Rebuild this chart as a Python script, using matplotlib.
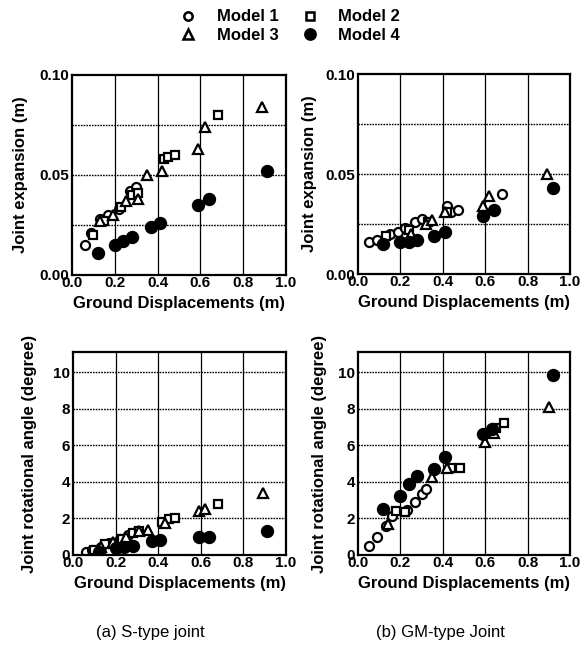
import matplotlib.pyplot as plt
import numpy as np

plt.rcParams['font.family'] = ['Liberation Sans', 'DejaVu Sans']
plt.rcParams['font.weight'] = 'bold'
plt.rcParams['axes.labelweight'] = 'bold'

# ---- S-type joint, joint expansion (m) ----
s_exp_m1_x = [0.06, 0.09, 0.13, 0.17, 0.22, 0.27, 0.30]
s_exp_m1_y = [0.015, 0.021, 0.028, 0.030, 0.033, 0.042, 0.044]
s_exp_m2_x = [0.10, 0.15, 0.23, 0.28, 0.31, 0.43, 0.45, 0.48, 0.68]
s_exp_m2_y = [0.020, 0.027, 0.034, 0.040, 0.041, 0.058, 0.059, 0.060, 0.080]
s_exp_m3_x = [0.13, 0.19, 0.25, 0.31, 0.35, 0.42, 0.59, 0.62, 0.89]
s_exp_m3_y = [0.027, 0.030, 0.037, 0.038, 0.050, 0.052, 0.063, 0.074, 0.084]
s_exp_m4_x = [0.12, 0.20, 0.24, 0.28, 0.37, 0.41, 0.59, 0.64, 0.91]
s_exp_m4_y = [0.011, 0.015, 0.017, 0.019, 0.024, 0.026, 0.035, 0.038, 0.052]

# ---- GM-type joint, joint expansion (m) ----
gm_exp_m1_x = [0.05, 0.09, 0.15, 0.19, 0.22, 0.27, 0.30, 0.42, 0.44, 0.47, 0.68]
gm_exp_m1_y = [0.016, 0.017, 0.020, 0.021, 0.023, 0.026, 0.0275, 0.034, 0.031, 0.032, 0.040]
gm_exp_m2_x = [0.13, 0.24, 0.33, 0.42]
gm_exp_m2_y = [0.019, 0.022, 0.026, 0.031]
gm_exp_m3_x = [0.25, 0.32, 0.35, 0.41, 0.59, 0.62, 0.89]
gm_exp_m3_y = [0.020, 0.025, 0.027, 0.031, 0.034, 0.039, 0.050]
gm_exp_m4_x = [0.12, 0.20, 0.24, 0.28, 0.36, 0.41, 0.59, 0.64, 0.92]
gm_exp_m4_y = [0.015, 0.016, 0.016, 0.017, 0.019, 0.021, 0.029, 0.032, 0.043]

# ---- S-type joint, rotational angle (degree) ----
s_rot_m1_x = [0.06, 0.09, 0.13, 0.17, 0.22, 0.26, 0.30]
s_rot_m1_y = [0.15, 0.30, 0.45, 0.65, 0.85, 1.10, 1.30]
s_rot_m2_x = [0.10, 0.15, 0.23, 0.28, 0.31, 0.42, 0.45, 0.48, 0.68]
s_rot_m2_y = [0.30, 0.60, 0.90, 1.20, 1.30, 1.80, 1.95, 2.00, 2.80]
s_rot_m3_x = [0.13, 0.19, 0.25, 0.31, 0.35, 0.43, 0.59, 0.62, 0.89]
s_rot_m3_y = [0.45, 0.70, 1.00, 1.30, 1.35, 1.75, 2.40, 2.50, 3.40]
s_rot_m4_x = [0.12, 0.20, 0.24, 0.28, 0.37, 0.41, 0.59, 0.64, 0.91]
s_rot_m4_y = [0.18, 0.36, 0.45, 0.50, 0.76, 0.82, 1.00, 1.00, 1.33]

# ---- GM-type joint, rotational angle (degree) ----
gm_rot_m1_x = [0.05, 0.09, 0.13, 0.16, 0.23, 0.27, 0.30, 0.32]
gm_rot_m1_y = [0.50, 1.00, 1.60, 2.15, 2.45, 2.90, 3.35, 3.60]
gm_rot_m2_x = [0.18, 0.22, 0.44, 0.48, 0.65, 0.69]
gm_rot_m2_y = [2.40, 2.35, 4.75, 4.75, 6.95, 7.20]
gm_rot_m3_x = [0.14, 0.35, 0.42, 0.60, 0.64, 0.90]
gm_rot_m3_y = [1.70, 4.25, 4.75, 6.20, 6.65, 8.10]
gm_rot_m4_x = [0.12, 0.20, 0.24, 0.28, 0.36, 0.41, 0.59, 0.63, 0.92]
gm_rot_m4_y = [2.50, 3.25, 3.90, 4.30, 4.70, 5.35, 6.60, 6.90, 9.85]

model_names = ['Model 1', 'Model 2', 'Model 3', 'Model 4']

W, H = 581, 655
fig = plt.figure(figsize=(W / 100, H / 100), dpi=100)


def px_axes(left, top, right, bottom):
    return fig.add_axes([left / W, 1 - bottom / H, (right - left) / W, (bottom - top) / H])


def draw_points(ax, m1, m2, m3, m4):
    kw = dict(linestyle='none', markeredgecolor='black', markeredgewidth=1.6)
    ax.plot(*m1, marker='o', markersize=6.5, markerfacecolor='white', **kw)
    ax.plot(*m2, marker='s', markersize=6.0, markerfacecolor='white', **kw)
    ax.plot(*m3, marker='^', markersize=7.0, markerfacecolor='white', **kw)
    ax.plot(*m4, marker='o', markersize=8.0, markerfacecolor='black', **kw)


def style_axes(ax, ymax, major, minor, fmt):
    ax.set_xlim(0, 1.0)
    ax.set_ylim(0, ymax)
    ax.set_xticks(np.arange(0, 1.01, 0.2))
    ax.set_xticklabels(['%.1f' % v for v in np.arange(0, 1.01, 0.2)])
    ax.set_yticks(major)
    ax.set_yticklabels([fmt % v for v in major])
    ax.set_yticks(minor, minor=True)
    ax.tick_params(which='both', length=0, labelsize=11, pad=2)
    ax.tick_params(axis='x', pad=1)
    for v in np.arange(0.2, 0.99, 0.2):
        ax.axvline(v, color='black', lw=0.9, zorder=0)
    for v in list(major[1:]) + list(minor):
        if v < ymax:
            ax.axhline(v, color='black', lw=1.0, ls=(0, (1.2, 0.8)), zorder=0)
    for s in ax.spines.values():
        s.set_linewidth(1.6)
    ax.set_xlabel('Ground Displacements (m)', fontsize=12, labelpad=4)


ax1 = px_axes(72, 75, 286, 275)
draw_points(ax1, (s_exp_m1_x, s_exp_m1_y), (s_exp_m2_x, s_exp_m2_y),
            (s_exp_m3_x, s_exp_m3_y), (s_exp_m4_x, s_exp_m4_y))
style_axes(ax1, 0.10, [0.0, 0.05, 0.10], [0.025, 0.075], '%.2f')
ax1.set_ylabel('Joint expansion (m)', fontsize=12, labelpad=8)

ax2 = px_axes(358, 74, 570, 274)
draw_points(ax2, (gm_exp_m1_x, gm_exp_m1_y), (gm_exp_m2_x, gm_exp_m2_y),
            (gm_exp_m3_x, gm_exp_m3_y), (gm_exp_m4_x, gm_exp_m4_y))
style_axes(ax2, 0.10, [0.0, 0.05, 0.10], [0.025, 0.075], '%.2f')
ax2.set_ylabel('Joint expansion (m)', fontsize=12, labelpad=6)

ax3 = px_axes(73, 352, 286, 555)
draw_points(ax3, (s_rot_m1_x, s_rot_m1_y), (s_rot_m2_x, s_rot_m2_y),
            (s_rot_m3_x, s_rot_m3_y), (s_rot_m4_x, s_rot_m4_y))
style_axes(ax3, 11.1, [0, 2, 4, 6, 8, 10], [], '%d')
ax3.set_ylabel('Joint rotational angle (degree)', fontsize=12, labelpad=12)

ax4 = px_axes(358, 352, 570, 555)
draw_points(ax4, (gm_rot_m1_x, gm_rot_m1_y), (gm_rot_m2_x, gm_rot_m2_y),
            (gm_rot_m3_x, gm_rot_m3_y), (gm_rot_m4_x, gm_rot_m4_y))
style_axes(ax4, 11.1, [0, 2, 4, 6, 8, 10], [], '%d')
ax4.set_ylabel('Joint rotational angle (degree)', fontsize=12, labelpad=8)

fig.text(150 / W, 1 - 632 / H, '(a) S-type joint', ha='center', va='center',
         fontsize=12, fontweight='normal')
fig.text(440 / W, 1 - 632 / H, '(b) GM-type Joint', ha='center', va='center',
         fontsize=12, fontweight='normal')

# legend at the top
handles = [
    plt.Line2D([], [], ls='none', marker='o', ms=6.0, mfc='white', mec='black', mew=1.8),
    plt.Line2D([], [], ls='none', marker='s', ms=5.5, mfc='white', mec='black', mew=1.8),
    plt.Line2D([], [], ls='none', marker='^', ms=6.5, mfc='white', mec='black', mew=1.8),
    plt.Line2D([], [], ls='none', marker='o', ms=8.0, mfc='black', mec='black', mew=1.2),
]
order = [0, 2, 1, 3]
fig.legend([handles[i] for i in order], [model_names[i] for i in order],
           ncol=2, loc='center', bbox_to_anchor=(290 / W, 1 - 26 / H),
           frameon=False, fontsize=12, handletextpad=1.2, columnspacing=1.4,
           labelspacing=0.2, handlelength=1.0)

fig.savefig('out.png', dpi=100)
